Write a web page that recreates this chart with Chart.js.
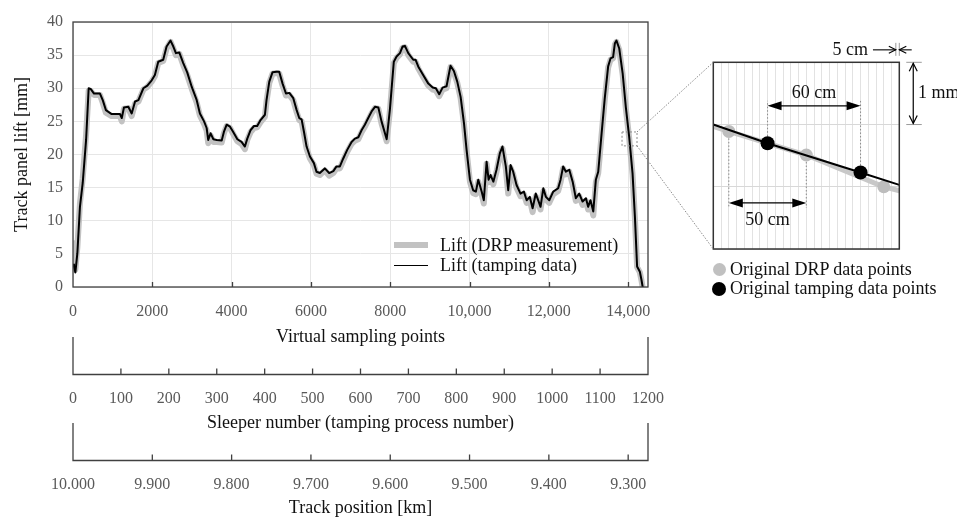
<!DOCTYPE html>
<html>
<head>
<meta charset="utf-8">
<script src="https://cdn.jsdelivr.net/npm/chart.js@4.4.1/dist/chart.umd.min.js"></script>
<style>
  html, body { margin: 0; padding: 0; background: #fff; }
  #wrap { position: relative; width: 957px; height: 517px; overflow: hidden; background: #fff;
          font-family: 'Liberation Serif', 'Times New Roman', serif; }
  canvas { position: absolute; top: 0; }
  .lgtext { position: absolute; font-size: 18px; line-height: 20px; color: #111; white-space: nowrap; }
  .lgline { position: absolute; }
  .lgdot { position: absolute; border-radius: 50%; }
</style>
</head>
<body>
<div id="wrap">
  <canvas id="main" width="957" height="517" style="left:0"></canvas>
  <canvas id="inset" width="337" height="310" style="left:620px"></canvas>

  <div class="lgline" style="left:394px;top:242px;width:34px;height:6px;background:#c2c2c2"></div>
  <div class="lgtext" style="left:440px;top:235px">Lift (DRP measurement)</div>
  <div class="lgline" style="left:394px;top:265px;width:34px;height:1.3px;background:#000"></div>
  <div class="lgtext" style="left:440px;top:255px">Lift (tamping data)</div>

  <div class="lgdot" style="left:712.5px;top:262.5px;width:13px;height:13px;background:#c0c0c0"></div>
  <div class="lgtext" style="left:730px;top:259px">Original DRP data points</div>
  <div class="lgdot" style="left:712px;top:281.5px;width:14px;height:14px;background:#000"></div>
  <div class="lgtext" style="left:730px;top:278px">Original tamping data points</div>
</div>

<script>
// ---------------- DATA ----------------
// Virtual sampling point index (5 cm spacing)
const samplePoints = [
  0, 25, 60, 110, 175, 245, 330, 395, 445, 530, 680, 750, 830, 975, 1185, 1230, 1285, 1395, 1480, 1565,
  1650, 1775, 1875, 1985, 2065, 2150, 2275, 2360, 2460, 2530, 2595, 2680, 2780, 2880, 2995, 3120, 3200, 3305, 3370, 3410,
  3470, 3540, 3625, 3750, 3805, 3875, 3960, 4040, 4145, 4250, 4335, 4395, 4480, 4565, 4645, 4730, 4840, 4880, 4950, 5030,
  5135, 5200, 5285, 5370, 5455, 5555, 5640, 5705, 5765, 5825, 5890, 5975, 6075, 6140, 6225, 6350, 6460, 6565, 6645, 6730,
  6815, 6915, 7025, 7110, 7195, 7280, 7360, 7445, 7530, 7615, 7700, 7780, 7910, 7990, 8090, 8160, 8245, 8310, 8370, 8455,
  8580, 8640, 8705, 8830, 8960, 9070, 9150, 9235, 9320, 9420, 9520, 9605, 9690, 9775, 9860, 9925, 10010, 10090, 10160, 10220,
  10305, 10360, 10430, 10480, 10530, 10600, 10680, 10765, 10830, 10915, 10975, 11035, 11100, 11185, 11285, 11370, 11440, 11520, 11590, 11670,
  11730, 11790, 11860, 11925, 12010, 12110, 12235, 12295, 12360, 12430, 12515, 12600, 12680, 12765, 12850, 12935, 12990, 13050, 13120, 13185,
  13245, 13330, 13410, 13495, 13555, 13620, 13665, 13705, 13775, 13860, 13940, 14025, 14110, 14170, 14225, 14295, 14335, 14380
];
// Lift from tamping data [mm]
const tampingLift = [
  3.4, 3.1, 2.2, 5.1, 12.1, 15.7, 22.2, 30.0, 29.9, 29.2, 29.2, 28.2, 26.7, 26.1, 26.1, 25.5, 27.1, 27.2, 26.2, 28.0,
  28.2, 30.0, 30.4, 31.2, 32.0, 34.0, 34.3, 36.3, 37.2, 36.3, 35.3, 35.4, 33.8, 32.4, 30.2, 28.2, 26.2, 25.0, 24.0, 22.2,
  23.2, 22.3, 22.2, 22.1, 23.4, 24.5, 24.2, 23.4, 22.3, 21.9, 21.2, 22.4, 23.7, 24.3, 24.3, 25.2, 26.0, 28.2, 31.0, 32.4,
  32.5, 32.5, 30.7, 29.2, 29.3, 28.5, 26.7, 25.5, 25.3, 23.4, 21.2, 19.7, 18.7, 17.4, 17.2, 17.9, 17.2, 17.5, 18.2, 18.2,
  19.4, 20.7, 21.9, 22.4, 22.6, 23.7, 24.5, 25.5, 26.5, 27.2, 27.1, 25.0, 22.3, 26.7, 34.0, 34.8, 35.3, 36.3, 36.4, 35.3,
  34.3, 34.3, 33.3, 32.0, 30.7, 30.1, 30.0, 29.1, 30.1, 30.3, 33.4, 32.6, 31.0, 28.7, 24.7, 20.7, 16.2, 14.6, 14.4, 16.2,
  14.4, 13.1, 18.9, 16.2, 16.9, 15.9, 17.7, 20.2, 21.2, 18.2, 14.6, 18.4, 17.4, 15.4, 14.1, 14.4, 13.1, 13.6, 11.9, 14.1,
  13.1, 12.1, 14.9, 13.6, 13.1, 14.4, 14.9, 16.2, 18.2, 17.4, 17.7, 15.9, 13.4, 14.1, 12.9, 13.4, 12.1, 13.1, 11.4, 16.2,
  17.4, 23.2, 28.5, 33.3, 34.5, 34.7, 36.8, 37.2, 36.0, 32.3, 27.2, 22.7, 17.2, 10.6, 3.1, 2.3, 1.1, -0.5
];
// Lift from DRP measurement [mm]
const drpLift = [
  6.6, 4.0, 2.6, 6.0, 12.6, 16.4, 23.0, 29.6, 29.6, 29.0, 29.0, 27.8, 26.3, 25.8, 25.8, 25.0, 26.9, 27.0, 25.8, 27.7,
  28.0, 29.8, 30.2, 31.0, 31.8, 33.8, 34.1, 36.0, 37.0, 36.0, 35.0, 35.2, 33.5, 32.0, 29.9, 27.8, 25.9, 24.6, 23.6, 21.7,
  22.9, 21.9, 21.9, 21.8, 23.2, 24.3, 24.0, 23.1, 22.0, 21.6, 20.8, 22.2, 23.4, 24.0, 24.1, 24.9, 25.7, 28.0, 30.8, 32.2,
  32.3, 32.2, 30.4, 28.9, 29.0, 28.2, 26.4, 25.2, 25.0, 23.1, 20.9, 19.4, 18.4, 17.1, 16.9, 17.6, 16.8, 17.2, 17.9, 17.9,
  19.1, 20.4, 21.6, 22.1, 22.3, 23.4, 24.2, 25.2, 26.2, 27.0, 26.9, 24.7, 22.0, 26.5, 33.8, 34.6, 35.1, 36.1, 36.2, 35.0,
  34.0, 34.0, 33.0, 31.7, 30.4, 29.8, 29.7, 28.8, 29.8, 30.0, 33.2, 32.4, 30.8, 28.5, 24.5, 20.5, 15.9, 14.2, 14.0, 15.9,
  14.0, 12.6, 18.6, 15.8, 16.6, 15.5, 17.4, 19.9, 20.9, 17.8, 14.1, 18.0, 17.0, 15.0, 13.7, 14.0, 12.7, 13.2, 11.3, 13.7,
  12.7, 11.7, 14.5, 13.2, 12.7, 14.0, 14.5, 15.8, 17.9, 17.0, 17.4, 15.5, 13.0, 13.7, 12.4, 13.0, 11.7, 12.7, 10.8, 15.8,
  17.2, 23.0, 28.3, 33.1, 34.3, 34.5, 36.6, 37.0, 35.8, 32.1, 27.0, 22.5, 17.0, 10.4, 3.0, 2.2, 1.0, -0.6
];

// Axis ranges and tick values
const samplingRange = [0, 14500];
const samplingTicks = [0, 2000, 4000, 6000, 8000, 10000, 12000, 14000];
const sleeperRange = [0, 1200];
const sleeperTicks = [0, 100, 200, 300, 400, 500, 600, 700, 800, 900, 1000, 1100, 1200];
const trackKmRange = [9.275, 10.000];   // shown reversed: 10.000 at left
const trackKmTicks = [10.0, 9.9, 9.8, 9.7, 9.6, 9.5, 9.4, 9.3];
const liftRange = [0, 40];
const liftTicks = [0, 5, 10, 15, 20, 25, 30, 35, 40];

// Zoomed window marked on the main chart (sampling points, mm)
const zoomWindowX = [13845, 14223];
const zoomWindowY = [21.3, 23.4];

// Inset (detail): x in sampling points (5 cm each), y in mm
const insetRangeX = [0, 24];
const insetRangeY = [0, 3];
const insetDrpX = [0, 2, 12, 22, 24.2];
const insetDrpY = [1.97, 1.89, 1.51, 1.00, 0.93];
const insetTampX = [0, 7, 19, 24];
const insetTampY = [2.00, 1.70, 1.23, 1.03];

// ---------------- CHARTS ----------------
const FONT = "'Liberation Serif', 'Times New Roman', serif";
Chart.defaults.font.family = FONT;
Chart.defaults.color = '#595959';
const AXIS = '#404040';
const GRID = '#e6e6e6';
const fixTicks = vals => (sc => { sc.ticks = vals.map(v => ({ value: v })); });

const mainDecor = {
  id: 'mainDecor',
  afterDraw(chart) {
    const { ctx, chartArea: a, scales } = chart;
    const x = scales.x, y = scales.y;
    ctx.save();
    ctx.strokeStyle = AXIS;
    ctx.lineWidth = 1.3;
    ctx.strokeRect(a.left, a.top, a.right - a.left, a.bottom - a.top);
    ctx.beginPath();
    x.ticks.forEach((tk, i) => {
      const px = Math.round(x.getPixelForTick(i)) + 0.5;
      if (px > a.left + 2 && px < a.right - 2) { ctx.moveTo(px, a.bottom); ctx.lineTo(px, a.bottom - 5); }
    });
    ctx.stroke();
    // secondary axes drawn as brackets with inward ticks
    [scales.s, scales.t].forEach(sc => {
      const p0 = sc.getPixelForValue(sc.min), p1 = sc.getPixelForValue(sc.max);
      const l = Math.min(p0, p1), r = Math.max(p0, p1);
      const topY = sc.top - 11, axY = sc.top + 26.5;
      ctx.beginPath();
      ctx.moveTo(l, topY); ctx.lineTo(l, axY); ctx.lineTo(r, axY); ctx.lineTo(r, topY);
      sc.ticks.forEach((tk, i) => {
        const px = sc.getPixelForTick(i);
        if (px > l + 2 && px < r - 2) { ctx.moveTo(px, axY); ctx.lineTo(px, axY - 6); }
      });
      ctx.stroke();
    });
    // zoom window
    ctx.setLineDash([2, 2]);
    ctx.strokeStyle = '#8a8a8a';
    ctx.lineWidth = 1;
    const zx0 = x.getPixelForValue(zoomWindowX[0]), zx1 = x.getPixelForValue(zoomWindowX[1]);
    const zy0 = y.getPixelForValue(zoomWindowY[1]), zy1 = y.getPixelForValue(zoomWindowY[0]);
    ctx.strokeRect(zx0, zy0, zx1 - zx0, zy1 - zy0);
    ctx.restore();
  }
};

const mainChart = new Chart(document.getElementById('main'), {
  type: 'line',
  data: {
    datasets: [
      { label: 'Lift (tamping data)', data: samplePoints.map((s, i) => ({ x: s, y: tampingLift[i] })),
        borderColor: '#000', borderWidth: 2, pointRadius: 0, tension: 0, order: 0,
        borderJoinStyle: 'round' },
      { label: 'Lift (DRP measurement)', data: samplePoints.map((s, i) => ({ x: s, y: drpLift[i] })),
        borderColor: '#c2c2c2', borderWidth: 6, pointRadius: 0, tension: 0, order: 1,
        borderJoinStyle: 'round', borderCapStyle: 'round' }
    ]
  },
  options: {
    responsive: false, animation: false, events: [],
    layout: { padding: { left: 0, right: 309, top: 22, bottom: 0 } },
    plugins: { legend: { display: false }, tooltip: { enabled: false } },
    scales: {
      x: {
        type: 'linear', position: 'bottom', weight: 0,
        min: samplingRange[0], max: samplingRange[1],
        afterBuildTicks: fixTicks(samplingTicks),
        afterFit: sc => { sc.height = 61; },
        grid: { color: GRID, drawTicks: false },
        border: { display: false },
        ticks: { padding: 15, autoSkip: false, maxRotation: 0, font: { size: 16 }, color: '#595959',
                 callback: v => v >= 10000 ? String(v).replace(/\B(?=(\d{3})+(?!\d))/g, ',') : String(v) },
        title: { display: true, text: 'Virtual sampling points', color: '#111', font: { size: 18 },
                 padding: { top: 0, bottom: 0 } }
      },
      s: {
        type: 'linear', axis: 'x', position: 'bottom', weight: 1,
        min: sleeperRange[0], max: sleeperRange[1],
        afterBuildTicks: fixTicks(sleeperTicks),
        afterFit: sc => { sc.height = 86; },
        grid: { display: false, drawTicks: false }, border: { display: false },
        ticks: { padding: 41, autoSkip: false, maxRotation: 0, font: { size: 16 }, color: '#595959',
                 callback: v => String(v) },
        title: { display: true, text: 'Sleeper number (tamping process number)', color: '#111', font: { size: 18 },
                 padding: { top: 0, bottom: 0 } }
      },
      t: {
        type: 'linear', axis: 'x', position: 'bottom', weight: 2, reverse: true,
        min: trackKmRange[0], max: trackKmRange[1],
        afterBuildTicks: fixTicks(trackKmTicks),
        afterFit: sc => { sc.height = 83; },
        grid: { display: false, drawTicks: false }, border: { display: false },
        ticks: { padding: 41, autoSkip: false, maxRotation: 0, font: { size: 16 }, color: '#595959',
                 callback: v => Number(v).toFixed(3) },
        title: { display: true, text: 'Track position [km]', color: '#111', font: { size: 18 },
                 padding: { top: 0, bottom: -2 } }
      },
      y: {
        type: 'linear', position: 'left', min: liftRange[0], max: liftRange[1],
        afterBuildTicks: fixTicks(liftTicks),
        afterFit: sc => { sc.width = 73; },
        grid: { color: GRID, drawTicks: false },
        border: { display: false },
        ticks: { padding: 10, font: { size: 16 }, color: '#595959' },
        title: { display: true, text: 'Track panel lift [mm]', color: '#111', font: { size: 18 },
                 padding: { top: 11, bottom: 0 } }
      }
    }
  },
  plugins: [mainDecor]
});

function head(ctx, x, y, dx, dy, len, half, filled) {
  const bx = x - dx * len, by = y - dy * len;
  ctx.beginPath();
  ctx.moveTo(bx - dy * half, by + dx * half);
  ctx.lineTo(x, y);
  ctx.lineTo(bx + dy * half, by - dx * half);
  if (filled) { ctx.closePath(); ctx.fill(); } else { ctx.stroke(); }
}
function seg(ctx, x1, y1, x2, y2) { ctx.beginPath(); ctx.moveTo(x1, y1); ctx.lineTo(x2, y2); ctx.stroke(); }

const dim60 = { from: 7, to: 19, level: 2.30, label: '60 cm' };
const dim50 = { from: 2, to: 12, level: 0.74, label: '50 cm' };

const insetDecor = {
  id: 'insetDecor',
  beforeDatasetsDraw(chart) {
    const { ctx, scales: { x, y } } = chart;
    ctx.save();
    ctx.setLineDash([1.5, 2]);
    ctx.strokeStyle = '#8a8a8a';
    ctx.lineWidth = 1;
    [1, 2].forEach(i => seg(ctx, x.getPixelForValue(insetDrpX[i]), y.getPixelForValue(insetDrpY[i]),
                                  x.getPixelForValue(insetDrpX[i]), y.getPixelForValue(dim50.level) + 5));
    [1, 2].forEach(i => seg(ctx, x.getPixelForValue(insetTampX[i]), y.getPixelForValue(insetTampY[i]),
                                  x.getPixelForValue(insetTampX[i]), y.getPixelForValue(dim60.level) - 5));
    ctx.restore();
  },
  afterDraw(chart) {
    const { ctx, chartArea: a, scales: { x, y } } = chart;
    ctx.save();
    // box
    ctx.strokeStyle = '#333';
    ctx.lineWidth = 1.5;
    ctx.strokeRect(a.left, a.top, a.right - a.left, a.bottom - a.top);
    // dimension arrows
    ctx.fillStyle = '#000';
    ctx.strokeStyle = '#000';
    ctx.lineWidth = 1.2;
    [dim60, dim50].forEach(d => {
      const x1 = x.getPixelForValue(d.from), x2 = x.getPixelForValue(d.to), yy = y.getPixelForValue(d.level);
      seg(ctx, x1 + 8, yy, x2 - 8, yy);
      head(ctx, x1, yy, -1, 0, 14, 4.5, true);
      head(ctx, x2, yy, 1, 0, 14, 4.5, true);
    });
    ctx.font = "18px " + FONT;
    ctx.fillStyle = '#111';
    ctx.textAlign = 'center';
    ctx.textBaseline = 'middle';
    ctx.fillText(dim60.label, x.getPixelForValue((dim60.from + dim60.to) / 2), y.getPixelForValue(dim60.level) - 13);
    ctx.fillText(dim50.label, x.getPixelForValue((dim50.from + dim50.to) / 2), y.getPixelForValue(dim50.level) + 17);
    // 1 mm marker
    const mx = x.getPixelForValue(25.8);
    const yTop = y.getPixelForValue(3), yBot = y.getPixelForValue(2);
    ctx.strokeStyle = '#9a9a9a';
    ctx.lineWidth = 1;
    seg(ctx, x.getPixelForValue(24.9), yTop, x.getPixelForValue(26.9), yTop);
    seg(ctx, x.getPixelForValue(24.9), yBot, x.getPixelForValue(26.9), yBot);
    ctx.strokeStyle = '#000';
    ctx.lineWidth = 1.2;
    seg(ctx, mx, yTop + 1, mx, yBot - 1);
    head(ctx, mx, yTop + 1, 0, -1, 8, 4, false);
    head(ctx, mx, yBot - 1, 0, 1, 8, 4, false);
    ctx.textAlign = 'left';
    ctx.fillText('1 mm', x.getPixelForValue(26.4), (yTop + yBot) / 2);
    // 5 cm marker
    const cy = y.getPixelForValue(3.2);
    const t1 = x.getPixelForValue(23.55), t2 = x.getPixelForValue(24.0);
    ctx.strokeStyle = '#9a9a9a';
    ctx.lineWidth = 1;
    seg(ctx, t1, cy - 7, t1, cy + 6);
    seg(ctx, t2, cy - 7, t2, cy + 6);
    ctx.strokeStyle = '#000';
    ctx.lineWidth = 1.1;
    seg(ctx, x.getPixelForValue(20.6), cy, t1, cy);
    head(ctx, t1, cy, 1, 0, 7, 3.5, false);
    seg(ctx, x.getPixelForValue(25.6), cy, t2, cy);
    head(ctx, t2, cy, -1, 0, 7, 3.5, false);
    ctx.textAlign = 'right';
    ctx.fillText('5 cm', x.getPixelForValue(19.95), cy);
    // connectors to the zoom window on the main chart
    const off = document.getElementById('inset').offsetLeft - document.getElementById('main').offsetLeft;
    const mxs = mainChart.scales.x, mys = mainChart.scales.y;
    const rx = mxs.getPixelForValue(zoomWindowX[1]) - off;
    const ry0 = mys.getPixelForValue(zoomWindowY[1]), ry1 = mys.getPixelForValue(zoomWindowY[0]);
    ctx.setLineDash([1.5, 1.5]);
    ctx.strokeStyle = '#8a8a8a';
    ctx.lineWidth = 1;
    seg(ctx, rx, ry0, a.left, a.top);
    seg(ctx, rx, ry1, a.left, a.bottom);
    ctx.restore();
  }
};

const markerRadius = r => (c => {
  const v = c.raw ? c.raw.x : 0;
  return (v > insetRangeX[0] && v < insetRangeX[1]) ? r : 0;
});

new Chart(document.getElementById('inset'), {
  type: 'line',
  data: {
    datasets: [
      { label: 'Original tamping data points', data: insetTampX.map((v, i) => ({ x: v, y: insetTampY[i] })),
        borderColor: '#000', borderWidth: 2, pointRadius: markerRadius(7), pointBackgroundColor: '#000',
        pointBorderWidth: 0, tension: 0, order: 0 },
      { label: 'Original DRP data points', data: insetDrpX.map((v, i) => ({ x: v, y: insetDrpY[i] })),
        borderColor: '#c8c8c8', borderWidth: 5, pointRadius: markerRadius(6.5), pointBackgroundColor: '#bdbdbd',
        pointBorderWidth: 0, tension: 0, order: 1 }
    ]
  },
  options: {
    responsive: false, animation: false, events: [],
    layout: { padding: { left: 93.3, right: 57.7, top: 62.3, bottom: 61 } },
    plugins: { legend: { display: false }, tooltip: { enabled: false } },
    scales: {
      x: { type: 'linear', min: insetRangeX[0], max: insetRangeX[1],
           afterFit: sc => { sc.height = 0; },
           ticks: { display: false, stepSize: 1, autoSkip: false },
           grid: { color: '#e2e2e2', drawTicks: false }, border: { display: false } },
      y: { type: 'linear', min: insetRangeY[0], max: insetRangeY[1],
           afterFit: sc => { sc.width = 0; },
           ticks: { display: false, stepSize: 1 },
           grid: { color: '#d8d8d8', drawTicks: false }, border: { display: false } }
    }
  },
  plugins: [insetDecor]
});
</script>
</body>
</html>
